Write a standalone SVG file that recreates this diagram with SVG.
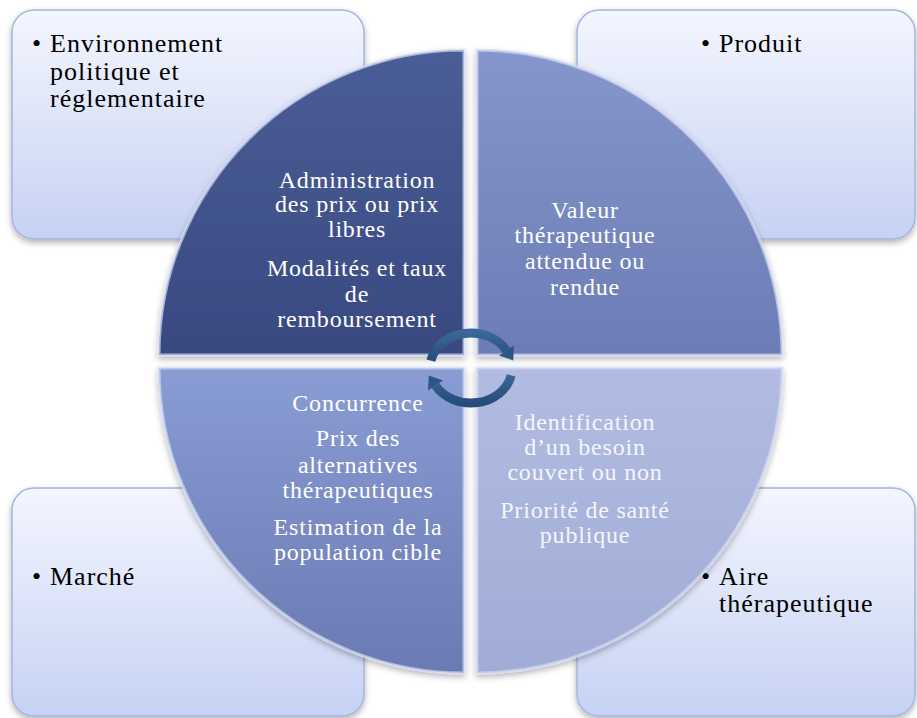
<svg xmlns="http://www.w3.org/2000/svg" width="917" height="718" viewBox="0 0 917 718">
<defs>
<linearGradient id="gBox" x1="0" y1="0" x2="0" y2="1">
<stop offset="0" stop-color="#f4f6fe"/>
<stop offset="1" stop-color="#c6d2f4"/>
</linearGradient>
<linearGradient id="gTL" x1="0" y1="0" x2="0" y2="1">
<stop offset="0" stop-color="#4a5d97"/>
<stop offset="1" stop-color="#394980"/>
</linearGradient>
<linearGradient id="gTR" x1="0" y1="0" x2="0" y2="1">
<stop offset="0" stop-color="#8596cd"/>
<stop offset="1" stop-color="#6c7cb4"/>
</linearGradient>
<linearGradient id="gBL" x1="0" y1="0" x2="0" y2="1">
<stop offset="0" stop-color="#8a9cd4"/>
<stop offset="1" stop-color="#6a7ab2"/>
</linearGradient>
<linearGradient id="gBR" x1="0" y1="0" x2="0" y2="1">
<stop offset="0" stop-color="#b2bce2"/>
<stop offset="1" stop-color="#a0acd6"/>
</linearGradient>
<linearGradient id="gArrow" x1="0" y1="0" x2="0" y2="1">
<stop offset="0" stop-color="#3a6798"/>
<stop offset="1" stop-color="#264c7a"/>
</linearGradient>
<filter id="sh" x="-10%" y="-10%" width="120%" height="120%">
<feDropShadow dx="0" dy="3" stdDeviation="3" flood-color="#000" flood-opacity="0.3"/>
</filter>
</defs>
<style>
.box{fill:url(#gBox);stroke:#a3b4e0;stroke-width:1.5;filter:url(#sh)}
.quad{stroke:#d4dcf3;stroke-opacity:0.7;stroke-width:3;filter:url(#sh)}
text{font-family:'Liberation Serif','DejaVu Serif','Times New Roman',serif}
.bt{font-size:26px;letter-spacing:1px;fill:#000}
.qt{font-size:24px;letter-spacing:0.8px;fill:#fff;text-anchor:middle}
.arc{fill:none;stroke:url(#gArrow);stroke-width:9}
.head{fill:#2c5686}
</style>
<rect width="917" height="718" fill="#fff"/>

<g id="box-environnement">
<rect class="box" x="12" y="10" width="352" height="229" rx="22"/>
<text class="bt" x="32" y="52">•</text>
<text class="bt" x="50" y="52">Environnement</text>
<text class="bt" x="50" y="80">politique et</text>
<text class="bt" x="50" y="107">réglementaire</text>
</g>
<g id="box-produit">
<rect class="box" x="577" y="10" width="338" height="229" rx="22"/>
<text class="bt" x="701" y="52">•</text>
<text class="bt" x="719" y="52">Produit</text>
</g>
<g id="box-marche">
<rect class="box" x="12" y="488" width="352" height="228" rx="22"/>
<text class="bt" x="32" y="585">•</text>
<text class="bt" x="50" y="585">Marché</text>
</g>
<g id="box-aire">
<rect class="box" x="577" y="488" width="338" height="228" rx="22"/>
<text class="bt" x="701" y="585">•</text>
<text class="bt" x="719" y="585">Aire</text>
<text class="bt" x="719" y="612">thérapeutique</text>
</g>

<g id="quad-tl">
<path class="quad" fill="url(#gTL)" d="M464,355 L159,355 A305,305 0 0 1 464,50 Z"/>
<text class="qt" x="357" y="188">Administration</text>
<text class="qt" x="357" y="212">des prix ou prix</text>
<text class="qt" x="357" y="237">libres</text>
<text class="qt" x="357" y="276">Modalités et taux</text>
<text class="qt" x="357" y="302">de</text>
<text class="qt" x="357" y="327">remboursement</text>
</g>
<g id="quad-tr">
<path class="quad" fill="url(#gTR)" d="M477,355 L477,50 A305,305 0 0 1 782,355 Z"/>
<text class="qt" x="585" y="218">Valeur</text>
<text class="qt" x="585" y="243">thérapeutique</text>
<text class="qt" x="585" y="269">attendue ou</text>
<text class="qt" x="585" y="295">rendue</text>
</g>
<g id="quad-bl">
<path class="quad" fill="url(#gBL)" d="M464,368 L464,673 A305,305 0 0 1 159,368 Z"/>
<text class="qt" x="358" y="411">Concurrence</text>
<text class="qt" x="358" y="446">Prix des</text>
<text class="qt" x="358" y="473">alternatives</text>
<text class="qt" x="358" y="498">thérapeutiques</text>
<text class="qt" x="358" y="535">Estimation de la</text>
<text class="qt" x="358" y="560">population cible</text>
</g>
<g id="quad-br">
<path class="quad" fill="url(#gBR)" d="M477,368 L782,368 A305,305 0 0 1 477,673 Z"/>
<text class="qt" x="585" y="430" fill-opacity="0.9">Identification</text>
<text class="qt" x="585" y="455" fill-opacity="0.9">d’un besoin</text>
<text class="qt" x="585" y="480" fill-opacity="0.9">couvert ou non</text>
<text class="qt" x="585" y="518" fill-opacity="0.9">Priorité de santé</text>
<text class="qt" x="585" y="543" fill-opacity="0.9">publique</text>
</g>

<g id="connectors">
<path class="arc" d="M430.9,360.7 A41,35 0 0 1 506.5,350.5"/>
<polygon class="head" points="513.2,360.4 514,345.5 499,355.5"/>
<path class="arc" d="M511.1,375.3 A41,35 0 0 1 435.5,385.5"/>
<polygon class="head" points="428.8,375.6 428,390.5 443,380.5"/>
</g>
</svg>
